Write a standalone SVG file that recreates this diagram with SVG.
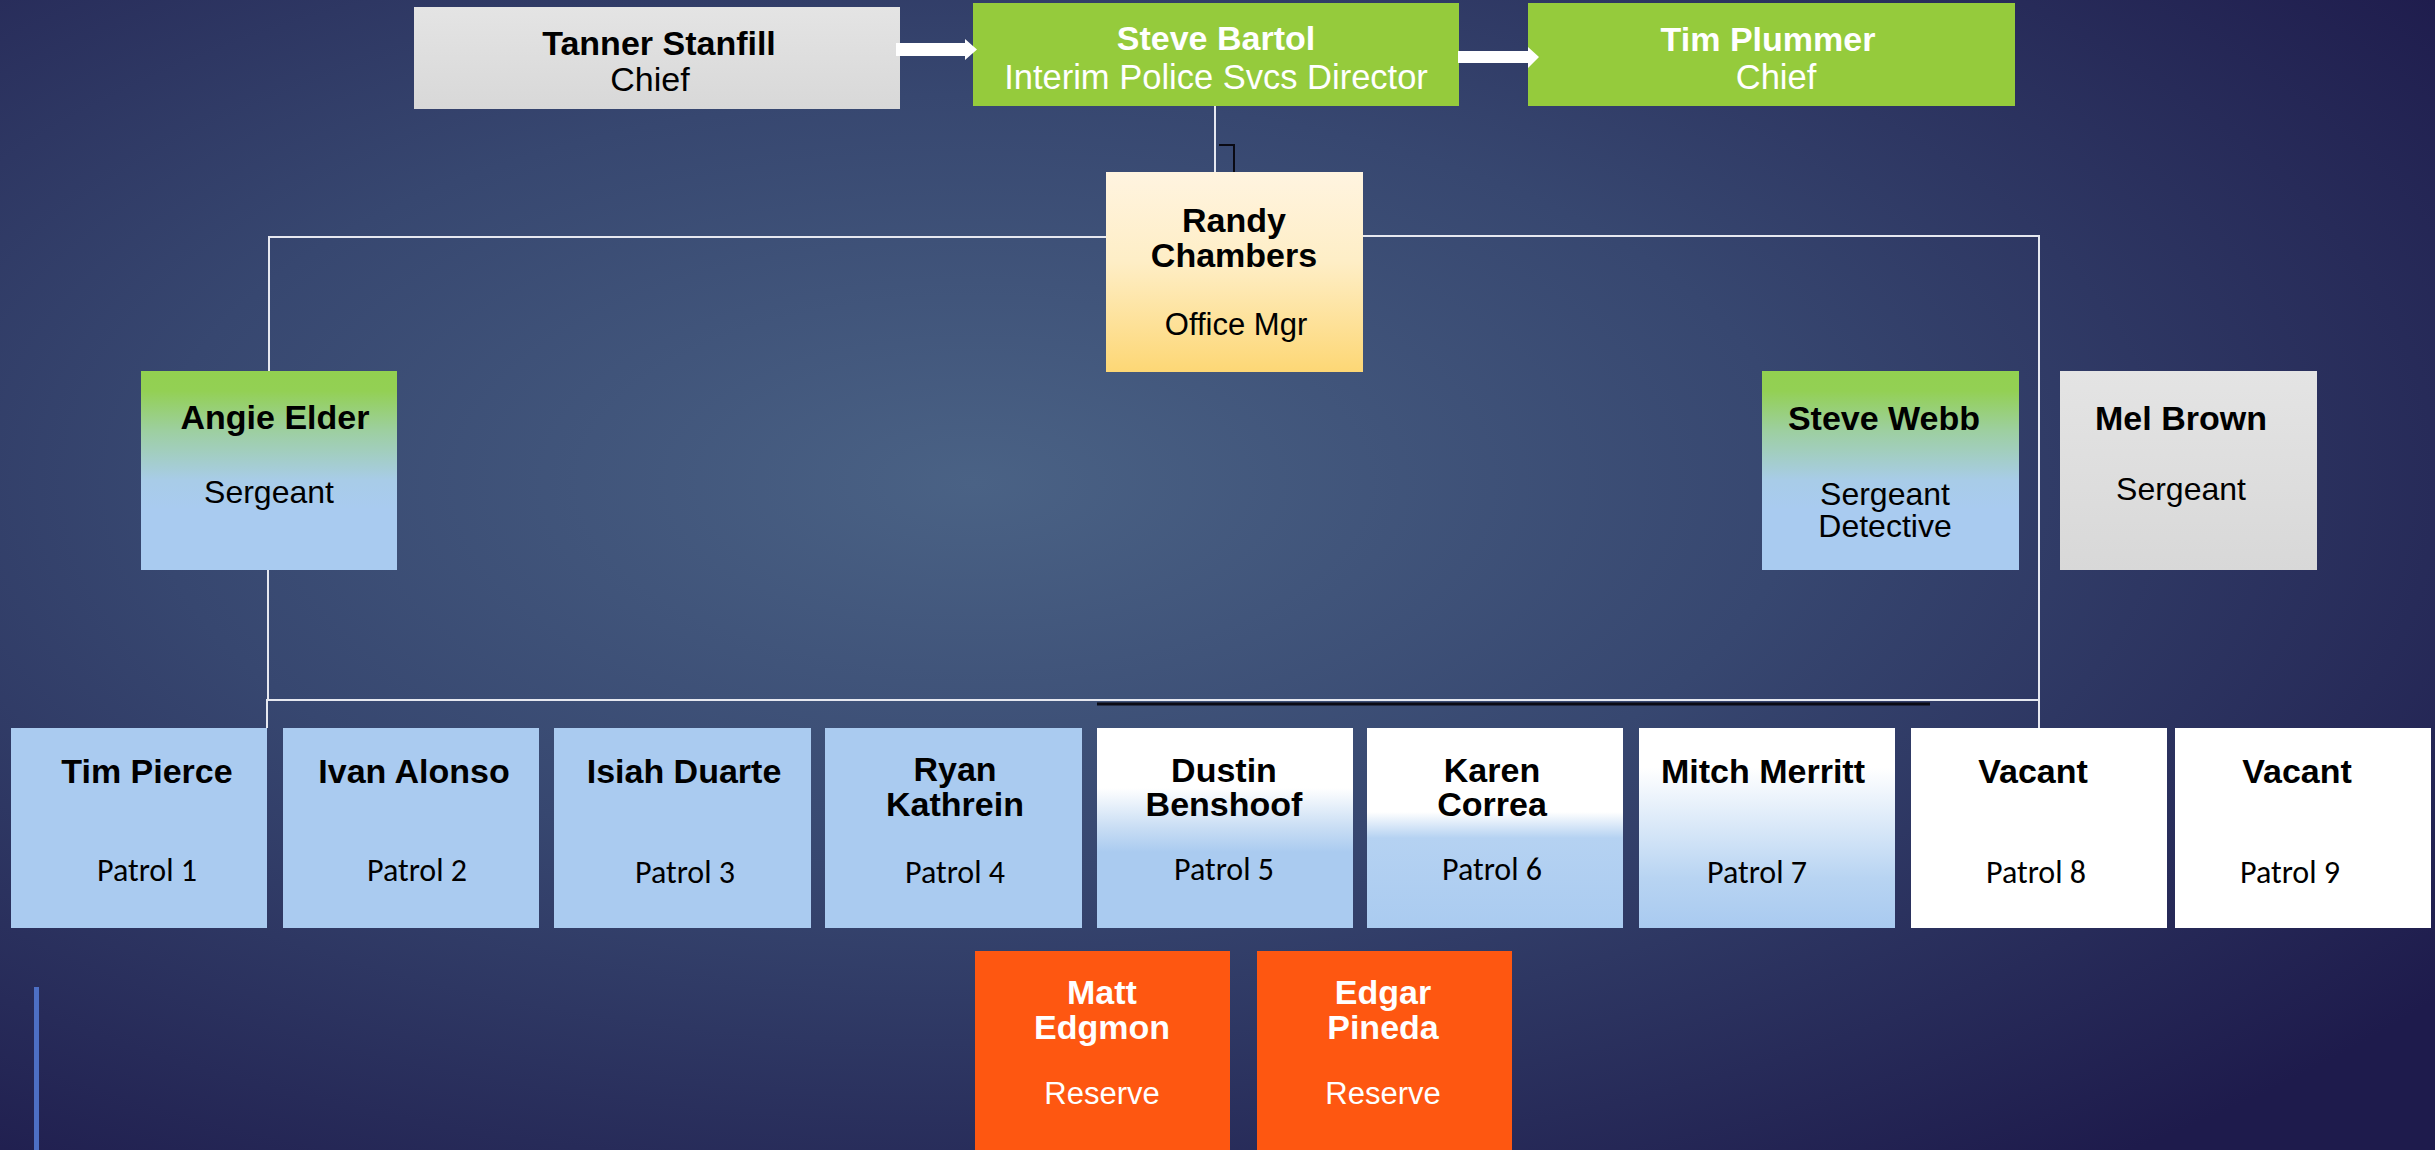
<svg xmlns="http://www.w3.org/2000/svg" width="2435" height="1150" viewBox="0 0 2435 1150">
  <defs>
    <radialGradient id="bg" cx="0.4" cy="0.42" r="0.75">
      <stop offset="0" stop-color="#4a6285"/>
      <stop offset="0.45" stop-color="#374770"/>
      <stop offset="1" stop-color="#1e1b4c"/>
    </radialGradient>
    <linearGradient id="gray" x1="0" y1="0" x2="0" y2="1">
      <stop offset="0" stop-color="#e4e4e4"/>
      <stop offset="1" stop-color="#d8d8d8"/>
    </linearGradient>
    <linearGradient id="cream" x1="0" y1="0" x2="0" y2="1">
      <stop offset="0" stop-color="#fff4e0"/>
      <stop offset="0.45" stop-color="#feeec6"/>
      <stop offset="1" stop-color="#fdd775"/>
    </linearGradient>
    <linearGradient id="greenblue" x1="0" y1="0" x2="0" y2="1">
      <stop offset="0" stop-color="#92d050"/>
      <stop offset="0.1" stop-color="#93d054"/>
      <stop offset="0.3" stop-color="#9dcfa0"/>
      <stop offset="0.55" stop-color="#a8cce8"/>
      <stop offset="0.7" stop-color="#a9cbf0"/>
      <stop offset="1" stop-color="#a9cbf0"/>
    </linearGradient>
    <linearGradient id="wb5" x1="0" y1="0" x2="0" y2="1">
      <stop offset="0" stop-color="#ffffff"/>
      <stop offset="0.3" stop-color="#ffffff"/>
      <stop offset="0.5" stop-color="#c8ddf4"/>
      <stop offset="0.62" stop-color="#aacbf0"/>
      <stop offset="1" stop-color="#aacbf0"/>
    </linearGradient>
    <linearGradient id="wb6" x1="0" y1="0" x2="0" y2="1">
      <stop offset="0" stop-color="#ffffff"/>
      <stop offset="0.42" stop-color="#ffffff"/>
      <stop offset="0.55" stop-color="#b5d2f2"/>
      <stop offset="1" stop-color="#aacbf0"/>
    </linearGradient>
    <linearGradient id="wb7" x1="0" y1="0" x2="0" y2="1">
      <stop offset="0" stop-color="#ffffff"/>
      <stop offset="0.2" stop-color="#ffffff"/>
      <stop offset="0.75" stop-color="#b8d4f2"/>
      <stop offset="1" stop-color="#a9caf0"/>
    </linearGradient>
  </defs>
  <style>
    .green { fill: #95cb3c; }
    .blue { fill: #aacbf0; }
    .white { fill: #ffffff; }
    .orange { fill: #fe5711; }
    .name { font-family: "Liberation Sans", Arial, sans-serif; font-weight: bold; font-size: 34px; fill: #000; text-anchor: middle; }
    .namew { font-family: "Liberation Sans", Arial, sans-serif; font-weight: bold; font-size: 34px; fill: #fff; text-anchor: middle; }
    .role { font-family: "Liberation Sans", Arial, sans-serif; font-size: 34px; fill: #000; text-anchor: middle; }
    .rolew { font-family: "Liberation Sans", Arial, sans-serif; font-size: 34.5px; fill: #fff; text-anchor: middle; }
    .patrol { font-family: Carlito, Lato, "Open Sans", sans-serif; font-size: 32px; fill: #000; text-anchor: middle; }
    .res { font-family: "Liberation Sans", Arial, sans-serif; font-size: 31px; fill: #fff; text-anchor: middle; }
    .conn { stroke: #e6e8f0; stroke-width: 2; fill: none; }
    .dark { stroke: #0a0a14; stroke-width: 3; fill: none; }
    .arrow { fill: #ffffff; }
  </style>

  <rect x="0" y="0" width="2435" height="1150" fill="url(#bg)"/>
  <rect x="34" y="987" width="5" height="163" fill="#4d6fc4"/>

  <g id="tanner-stanfill">
    <rect x="414" y="7" width="486" height="102" fill="url(#gray)"/>
    <text class="name" x="659" y="55">Tanner Stanfill</text>
    <text class="role" x="650" y="91">Chief</text>
  </g>
  <g id="steve-bartol">
    <rect class="green" x="973" y="3" width="486" height="103"/>
    <text class="namew" x="1216" y="50">Steve Bartol</text>
    <text class="rolew" x="1216" y="89">Interim Police Svcs Director</text>
  </g>
  <g id="tim-plummer">
    <rect class="green" x="1528" y="3" width="487" height="103"/>
    <text class="namew" x="1768" y="51">Tim Plummer</text>
    <text class="rolew" x="1776" y="89">Chief</text>
  </g>
  <g id="randy-chambers">
    <rect x="1106" y="172" width="257" height="200" fill="url(#cream)"/>
    <text class="name" x="1234" y="232">Randy</text>
    <text class="name" x="1234" y="267">Chambers</text>
    <text class="role" x="1236" y="335" style="font-size:31px">Office Mgr</text>
  </g>
  <g id="angie-elder">
    <rect x="141" y="371" width="256" height="199" fill="url(#greenblue)"/>
    <text class="name" x="275" y="429">Angie Elder</text>
    <text class="role" x="269" y="503" style="font-size:32px">Sergeant</text>
  </g>
  <g id="steve-webb">
    <rect x="1762" y="371" width="257" height="199" fill="url(#greenblue)"/>
    <text class="name" x="1884" y="430">Steve Webb</text>
    <text class="role" x="1885" y="505" style="font-size:32px">Sergeant</text>
    <text class="role" x="1885" y="537" style="font-size:32px">Detective</text>
  </g>
  <g id="mel-brown">
    <rect x="2060" y="371" width="257" height="199" fill="url(#gray)"/>
    <text class="name" x="2181" y="430">Mel Brown</text>
    <text class="role" x="2181" y="500" style="font-size:32px">Sergeant</text>
  </g>

  <g id="tim-pierce">
    <rect class="blue" x="11" y="728" width="256" height="200"/>
    <text class="name" x="147" y="783">Tim Pierce</text>
    <text class="patrol" x="147" y="881">Patrol 1</text>
  </g>
  <g id="ivan-alonso">
    <rect class="blue" x="283" y="728" width="256" height="200"/>
    <text class="name" x="414" y="783">Ivan Alonso</text>
    <text class="patrol" x="417" y="881">Patrol 2</text>
  </g>
  <g id="isiah-duarte">
    <rect class="blue" x="554" y="728" width="257" height="200"/>
    <text class="name" x="684" y="783">Isiah Duarte</text>
    <text class="patrol" x="685" y="883">Patrol 3</text>
  </g>
  <g id="ryan-kathrein">
    <rect class="blue" x="825" y="728" width="257" height="200"/>
    <text class="name" x="955" y="781">Ryan</text>
    <text class="name" x="955" y="816">Kathrein</text>
    <text class="patrol" x="955" y="883">Patrol 4</text>
  </g>
  <g id="dustin-benshoof">
    <rect x="1097" y="728" width="256" height="200" fill="url(#wb5)"/>
    <text class="name" x="1224" y="782">Dustin</text>
    <text class="name" x="1224" y="816">Benshoof</text>
    <text class="patrol" x="1224" y="880">Patrol 5</text>
  </g>
  <g id="karen-correa">
    <rect x="1367" y="728" width="256" height="200" fill="url(#wb6)"/>
    <text class="name" x="1492" y="782">Karen</text>
    <text class="name" x="1492" y="816">Correa</text>
    <text class="patrol" x="1492" y="880">Patrol 6</text>
  </g>
  <g id="mitch-merritt">
    <rect x="1639" y="728" width="256" height="200" fill="url(#wb7)"/>
    <text class="name" x="1763" y="783">Mitch Merritt</text>
    <text class="patrol" x="1757" y="883">Patrol 7</text>
  </g>
  <g id="vacant-8">
    <rect class="white" x="1911" y="728" width="256" height="200"/>
    <text class="name" x="2033" y="783">Vacant</text>
    <text class="patrol" x="2036" y="883">Patrol 8</text>
  </g>
  <g id="vacant-9">
    <rect class="white" x="2175" y="728" width="256" height="200"/>
    <text class="name" x="2297" y="783">Vacant</text>
    <text class="patrol" x="2290" y="883">Patrol 9</text>
  </g>

  <g id="matt-edgmon">
    <rect class="orange" x="975" y="951" width="255" height="199"/>
    <text class="namew" x="1102" y="1004">Matt</text>
    <text class="namew" x="1102" y="1039">Edgmon</text>
    <text class="res" x="1102" y="1104">Reserve</text>
  </g>
  <g id="edgar-pineda">
    <rect class="orange" x="1257" y="951" width="255" height="199"/>
    <text class="namew" x="1383" y="1004">Edgar</text>
    <text class="namew" x="1383" y="1039">Pineda</text>
    <text class="res" x="1383" y="1104">Reserve</text>
  </g>

  <g id="connectors">
    <polyline class="conn" points="1215,106 1215,172"/>
    <polyline class="dark" points="1219,145 1234,145 1234,172" style="stroke-width:2"/>
    <polyline class="conn" points="1106,237 269,237 269,371"/>
    <polyline class="conn" points="1363,236 2039,236 2039,728"/>
    <polyline class="conn" points="268,570 268,700 267,700 267,728"/>
    <polyline class="conn" points="267,700 2039,700"/>
    <polyline class="dark" points="1097,704 1930,704"/>
    <polygon class="arrow" points="896,43 965,43 965,39 977,49.5 965,60 965,56 896,56"/>
    <polygon class="arrow" points="1458,51 1528,51 1528,47 1539,57 1528,68 1528,63 1458,63"/>
  </g>
</svg>
